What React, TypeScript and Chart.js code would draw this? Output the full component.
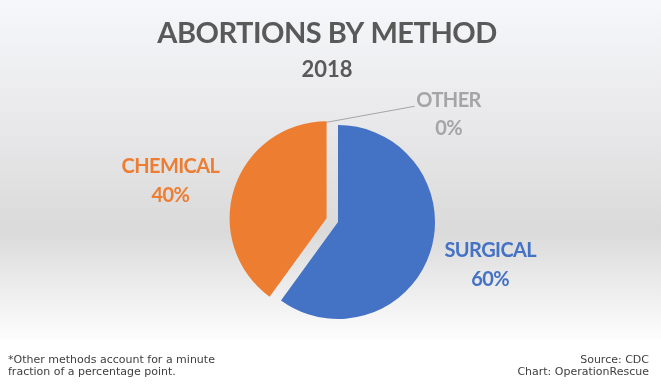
import React, { useEffect, useRef } from "react";
import { Chart, registerables } from "chart.js";

Chart.register(...registerables);

// ---- data ----
const categories = ["SURGICAL", "CHEMICAL", "OTHER"];
const values = [60, 40, 0];
const percentLabels = ["60%", "40%", "0%"];
const sliceColors = ["#4472C4", "#ED7D31", "#A5A5A5"];
const sliceOffsets = [0, 12, 0]; // explode distance in px
const titleText = "ABORTIONS BY METHOD";
const subtitleText = "2018";
const footnoteLines = ["*Other methods account for a minute", "fraction of a percentage point."];
const sourceLines = ["Source: CDC", "Chart: OperationRescue"];

// label tweaks (dist along mid-angle, dx, dy)
const labelDist = [158, 160, 0];
const labelShift = [
  [2, -7],
  [-4, 11],
  [0, 0],
];

const W = 661;
const H = 386;
const PLOT_BOTTOM = 339;

const decorPlugin = {
  id: "decor",
  beforeDraw(chart: any) {
    const ctx = chart.ctx as any;
    ctx.save();
    ctx.fillStyle = "#ffffff";
    ctx.fillRect(0, 0, W, H);
    const g = ctx.createLinearGradient(0, 0, 0, PLOT_BOTTOM);
    g.addColorStop(0, "#f6f7fa");
    g.addColorStop(0.35, "#e9e9eb");
    g.addColorStop(0.68, "#dadada");
    g.addColorStop(1, "#fdfdfd");
    ctx.fillStyle = g;
    ctx.fillRect(0, 0, W, PLOT_BOTTOM);

    // titles
    ctx.fillStyle = "#595959";
    ctx.textAlign = "center";
    ctx.textBaseline = "alphabetic";
    ctx.letterSpacing = "-0.5px";
    ctx.font = "bold 29px Lato";
    ctx.fillText(titleText, 327, 43);
    ctx.letterSpacing = "0px";
    ctx.font = "bold 22px Lato";
    ctx.fillText(subtitleText, 327, 77);

    // footer
    ctx.font = "11px 'DejaVu Sans'";
    ctx.fillStyle = "#404040";
    ctx.textAlign = "left";
    ctx.fillText(footnoteLines[0], 8, 363);
    ctx.fillText(footnoteLines[1], 8, 375);
    ctx.textAlign = "right";
    ctx.fillText(sourceLines[0], 649, 363);
    ctx.fillText(sourceLines[1], 649, 375);
    ctx.restore();
  },
  beforeDatasetDraw(chart: any, args: any) {
    const ctx = chart.ctx as CanvasRenderingContext2D;
    const meta = args.meta;
    meta.data.forEach((arc: any, i: number) => {
      const { startAngle, endAngle } = arc.getProps(["startAngle", "endAngle"], true);
      const mid = (startAngle + endAngle) / 2;
      const off = sliceOffsets[i];
      ctx.save();
      ctx.translate(Math.cos(mid) * off, Math.sin(mid) * off);
      arc.draw(ctx);
      ctx.restore();
    });
    return false;
  },
  afterDatasetsDraw(chart: any) {
    const ctx = chart.ctx as any;
    const meta = chart.getDatasetMeta(0);
    ctx.save();
    ctx.textAlign = "center";
    ctx.textBaseline = "alphabetic";
    ctx.font = "bold 20px Lato";
    ctx.letterSpacing = "-0.6px";
    meta.data.forEach((arc: any, i: number) => {
      const { x, y, startAngle, endAngle, outerRadius } = arc.getProps(
        ["x", "y", "startAngle", "endAngle", "outerRadius"],
        true
      );
      const mid = (startAngle + endAngle) / 2;
      const dx = Math.cos(mid);
      const dy = Math.sin(mid);
      ctx.fillStyle = sliceColors[i];
      if (values[i] > 0) {
        const off = sliceOffsets[i];
        const cx = x + dx * off;
        const cy = y + dy * off;
        const px = cx + dx * labelDist[i] + labelShift[i][0];
        const py = cy + dy * labelDist[i] + labelShift[i][1];
        ctx.fillText(categories[i], px, py - 7);
        ctx.fillText(percentLabels[i], px, py + 22);
      } else {
        // leader line from the top corner of the neighbouring exploded slice
        const prev = i - 1;
        const prevArc = meta.data[prev];
        const pp = prevArc.getProps(["startAngle", "endAngle"], true);
        const pm = (pp.startAngle + pp.endAngle) / 2;
        const ox = Math.cos(pm) * sliceOffsets[prev];
        const oy = Math.sin(pm) * sliceOffsets[prev];
        const sx = x + Math.cos(startAngle) * outerRadius + ox;
        const sy = y + Math.sin(startAngle) * outerRadius + oy + 1;
        const ex = sx + 88;
        const ey = sy - 16;
        ctx.strokeStyle = "#A5A5A5";
        ctx.lineWidth = 1;
        ctx.beginPath();
        ctx.moveTo(sx, sy);
        ctx.lineTo(ex, ey);
        ctx.stroke();
        ctx.fillText(categories[i], ex + 34, ey + 1);
        ctx.fillText(percentLabels[i], ex + 34, ey + 29);
      }
    });
    ctx.restore();
  },
};

export default function App() {
  const ref = useRef<HTMLCanvasElement | null>(null);
  useEffect(() => {
    if (!ref.current) return;
    const chart = new Chart(ref.current, {
      type: "pie",
      data: {
        labels: categories,
        datasets: [
          {
            data: values,
            backgroundColor: sliceColors,
            borderWidth: 0,
          },
        ],
      },
      options: {
        responsive: false,
        animation: false,
        radius: 97,
        layout: { padding: { left: 238, right: 223, top: 122, bottom: 64 } },
        plugins: {
          legend: { display: false },
          tooltip: { enabled: false },
          title: { display: false },
        },
        events: [],
      } as any,
      plugins: [decorPlugin],
    });
    return () => chart.destroy();
  }, []);
  return (
    <div style={{ position: "absolute", left: 0, top: 0, width: W, height: H }}>
      <canvas ref={ref} width={W} height={H} style={{ width: W, height: H, display: "block" }} />
    </div>
  );
}
